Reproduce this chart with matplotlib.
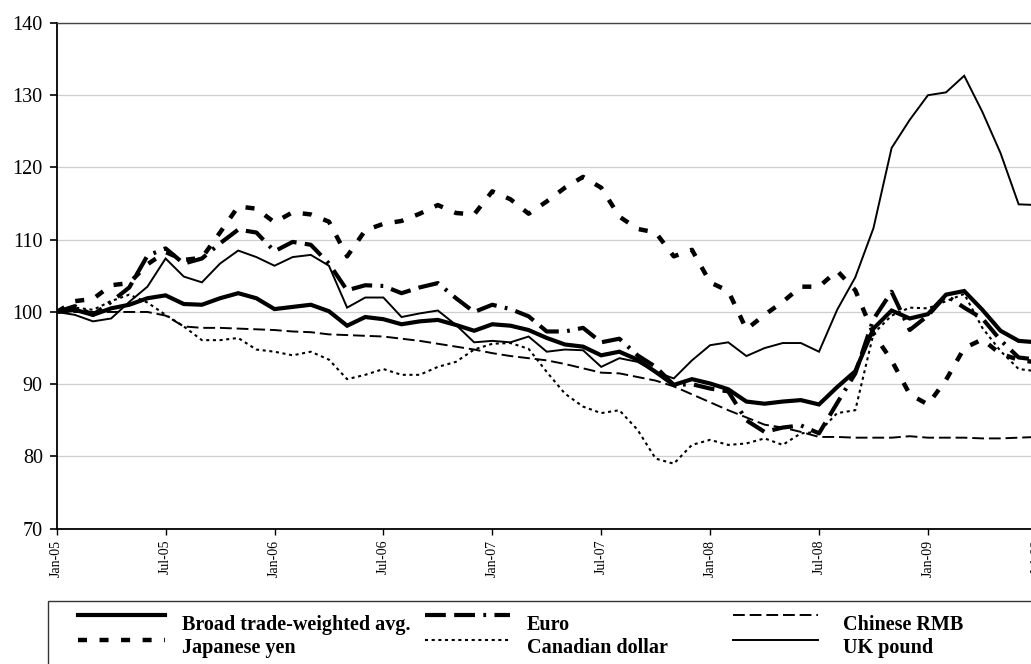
import matplotlib
matplotlib.use('Agg')
import matplotlib.pyplot as plt
from matplotlib.lines import Line2D
from matplotlib.patches import Rectangle
import numpy as np

plt.rcParams['font.family'] = ['Liberation Serif', 'DejaVu Serif']
plt.rcParams['lines.scale_dashes'] = False

# ---------------- data (monthly, Jan-05 .. Jul-09, index Jan-05 = 100) ----------------
tick_labels = ['Jan-05', 'Jul-05', 'Jan-06', 'Jul-06', 'Jan-07', 'Jul-07',
               'Jan-08', 'Jul-08', 'Jan-09', 'Jul-09']

broad = [100.0, 100.3, 99.6, 100.5, 101.0, 101.9, 102.3, 101.1, 101.0, 101.9,
         102.6, 101.9, 100.4, 100.7, 101.0, 100.1, 98.1, 99.3, 99.0, 98.3,
         98.7, 98.9, 98.2, 97.4, 98.3, 98.1, 97.5, 96.4, 95.5, 95.2,
         94.0, 94.5, 93.4, 91.7, 89.9, 90.7, 90.1, 89.3, 87.6, 87.3,
         87.6, 87.8, 87.2, 89.6, 91.8, 97.7, 100.2, 99.1, 99.7, 102.4,
         102.9, 100.3, 97.4, 96.0, 95.8]

euro = [100.0, 100.8, 99.6, 101.4, 103.4, 107.8, 108.8, 106.7, 107.4, 109.5,
        111.4, 111.0, 108.4, 109.7, 109.3, 106.7, 103.0, 103.7, 103.6, 102.6,
        103.4, 104.0, 101.9, 100.0, 101.0, 100.4, 99.4, 97.3, 97.3, 97.8,
        95.8, 96.3, 94.0, 92.4, 89.9, 90.0, 89.4, 89.0, 85.0, 83.4,
        84.0, 84.3, 83.2, 87.4, 91.5, 99.0, 102.8, 97.5, 99.5, 102.3,
        100.6, 99.1, 96.1, 93.7, 93.4]

rmb = [100.0, 100.0, 100.0, 100.0, 100.0, 100.0, 99.5, 98.0, 97.8, 97.8,
       97.7, 97.6, 97.5, 97.3, 97.2, 96.9, 96.8, 96.7, 96.6, 96.3,
       96.0, 95.6, 95.2, 94.8, 94.3, 93.9, 93.6, 93.3, 92.8, 92.2,
       91.6, 91.5, 91.0, 90.5, 89.7, 88.6, 87.5, 86.4, 85.4, 84.4,
       84.0, 83.4, 82.7, 82.7, 82.6, 82.6, 82.6, 82.8, 82.6, 82.6,
       82.6, 82.5, 82.5, 82.6, 82.7]

yen = [100.0, 101.5, 101.8, 103.7, 104.0, 106.6, 108.3, 107.2, 107.5, 111.0,
       114.6, 114.3, 112.4, 113.8, 113.5, 112.5, 107.7, 111.3, 112.2, 112.6,
       113.6, 114.8, 113.7, 113.5, 116.7, 115.6, 113.6, 115.3, 117.2, 118.7,
       117.2, 113.2, 111.5, 111.0, 107.7, 108.6, 104.1, 102.9, 97.6, 99.6,
       101.4, 103.5, 103.5, 105.7, 103.0, 97.0, 93.3, 88.6, 87.2, 90.6,
       95.0, 96.2, 94.2, 93.4, 93.0]

cad = [100.0, 100.6, 100.3, 101.5, 102.4, 101.3, 99.6, 98.0, 96.1, 96.1,
       96.4, 94.8, 94.5, 94.0, 94.5, 93.4, 90.7, 91.3, 92.1, 91.3,
       91.3, 92.4, 93.1, 94.8, 95.6, 95.7, 94.9, 91.7, 88.7, 86.9,
       86.0, 86.4, 83.7, 79.7, 79.0, 81.6, 82.3, 81.6, 81.8, 82.5,
       81.6, 83.2, 83.4, 86.0, 86.4, 97.0, 99.5, 100.6, 100.5, 101.5,
       102.5, 97.8, 94.6, 92.1, 91.8]

gbp = [100.0, 99.6, 98.7, 99.1, 101.4, 103.5, 107.4, 104.9, 104.1, 106.7,
       108.5, 107.6, 106.4, 107.6, 107.9, 106.4, 100.6, 102.0, 102.0, 99.3,
       99.8, 100.2, 98.2, 95.8, 96.0, 95.8, 96.6, 94.5, 94.8, 94.7,
       92.4, 93.6, 93.1, 91.7, 90.8, 93.3, 95.4, 95.8, 93.9, 95.0,
       95.7, 95.7, 94.5, 100.3, 104.8, 111.6, 122.7, 126.6, 130.0, 130.4,
       132.7, 127.7, 122.0, 114.9, 114.8]

series_names = ['Broad trade-weighted avg.', 'Euro', 'Chinese RMB',
                'Japanese yen', 'Canadian dollar', 'UK pound']

# ---------------- styles ----------------
styles = {
    'Broad trade-weighted avg.': dict(lw=3.0, ls='-'),
    'Euro': dict(lw=3.0, ls=(0, (15, 6, 15, 6, 2, 6))),
    'Chinese RMB': dict(lw=1.4, ls=(0, (8.5, 3.5))),
    'Japanese yen': dict(lw=3.2, ls=(0, (6.5, 9.0))),
    'Canadian dollar': dict(lw=1.5, ls=(0, (2.2, 2.6))),
    'UK pound': dict(lw=1.4, ls='-'),
}
data = {
    'Broad trade-weighted avg.': broad, 'Euro': euro, 'Chinese RMB': rmb,
    'Japanese yen': yen, 'Canadian dollar': cad, 'UK pound': gbp,
}

W, H = 1031, 664
fig = plt.figure(figsize=(W / 100, H / 100), dpi=100)

x0_px, x_end_px = 56.7, 56.7 + 18.15 * 54
y_top_px, y_bot_px = 23.0, 528.7
ax = fig.add_axes([x0_px / W, (H - y_bot_px) / H,
                   (x_end_px - x0_px) / W, (y_bot_px - y_top_px) / H])

x = np.arange(len(broad))
for name in series_names:
    st = styles[name]
    ax.plot(x, data[name], color='black', linewidth=st['lw'], linestyle=st['ls'],
            solid_joinstyle='miter', dash_capstyle='butt', zorder=3)

ax.set_xlim(0, len(broad) - 1)
ax.set_ylim(70, 140)
ax.set_yticks(np.arange(70, 141, 10))
ax.set_xticks(np.arange(0, len(broad), 6))
ax.set_xticklabels(tick_labels, rotation=90, fontsize=10)
ax.tick_params(axis='y', labelsize=14.5, length=5, width=1.2, pad=5, direction='out')
ax.tick_params(axis='x', length=4.5, width=1.0, pad=3.5, direction='out')

ax.grid(axis='y', color='#cfcfcf', linewidth=0.9, zorder=0)
ax.set_axisbelow(True)
ax.spines['left'].set_linewidth(1.3)
ax.spines['bottom'].set_linewidth(1.3)
ax.spines['top'].set_color('#444444')
ax.spines['top'].set_linewidth(1.0)
ax.spines['right'].set_visible(False)

# ---------------- legend (manual, figure pixel coords) ----------------
def fx(px):
    return px / W

def fy(py):
    return 1 - py / H

fig.add_artist(Rectangle((fx(48), fy(720)), fx(1100) - fx(48), fy(601) - fy(720),
                         transform=fig.transFigure, fill=False,
                         edgecolor='#333333', linewidth=1.0))

col_handle = [(78, 165), (425, 510), (733, 818)]
col_text = [182, 527, 843]
row_handle_y = [615, 640]
row_text_y = [630, 653]
legend_grid = [['Broad trade-weighted avg.', 'Euro', 'Chinese RMB'],
               ['Japanese yen', 'Canadian dollar', 'UK pound']]
for r, row in enumerate(legend_grid):
    for c, name in enumerate(row):
        st = styles[name]
        x1, x2 = col_handle[c]
        fig.add_artist(Line2D([fx(x1), fx(x2)], [fy(row_handle_y[r])] * 2,
                              transform=fig.transFigure, color='black',
                              linewidth=st['lw'], linestyle=st['ls'],
                              dash_capstyle='butt'))
        fig.text(fx(col_text[c]), fy(row_text_y[r]), name, fontsize=14.5,
                 fontweight='bold', ha='left', va='baseline')

fig.savefig('out.png', dpi=100)
